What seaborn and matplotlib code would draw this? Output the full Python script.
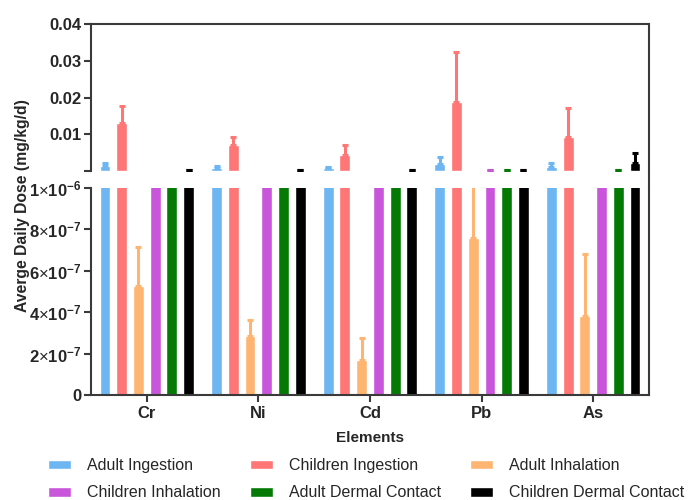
import numpy as np
import pandas as pd
import matplotlib
matplotlib.use("Agg")
import matplotlib.pyplot as plt
from matplotlib.lines import Line2D
from matplotlib.ticker import FixedLocator
import seaborn as sns

# ---------------- data ----------------
elements = ["Cr", "Ni", "Cd", "Pb", "As"]
series = ["Adult Ingestion", "Children Ingestion", "Adult Inhalation",
          "Children Inhalation", "Adult Dermal Contact", "Children Dermal Contact"]

adult_ing = [0.0013, 0.0009, 0.0007, 0.0019, 0.0012]
adult_ing_err = [0.0008, 0.0004, 0.0003, 0.0019, 0.0009]
child_ing = [0.0130, 0.0071, 0.0043, 0.0187, 0.0093]
child_ing_err = [0.0047, 0.0021, 0.0027, 0.0138, 0.0079]
adult_inh = [5.25e-7, 2.83e-7, 1.70e-7, 7.57e-7, 3.80e-7]
adult_inh_err = [1.90e-7, 0.77e-7, 1.07e-7, 2.60e-7, 3.00e-7]
child_inh = [2.0e-5, 1.5e-5, 1.0e-5, 3.0e-4, 1.5e-5]
child_inh_err = [0.0, 0.0, 0.0, 0.0001, 0.0]
adult_derm = [3.0e-5, 2.0e-5, 1.0e-5, 3.0e-4, 3.0e-4]
adult_derm_err = [0.0, 0.0, 0.0, 0.0001, 0.0001]
child_derm = [3.0e-4, 2.0e-4, 1.5e-4, 3.0e-4, 2.2e-3]
child_derm_err = [0.0001, 0.0001, 0.0001, 0.0001, 0.0027]

values = [adult_ing, child_ing, adult_inh, child_inh, adult_derm, child_derm]
errors = [adult_ing_err, child_ing_err, adult_inh_err, child_inh_err,
          adult_derm_err, child_derm_err]
colors = ["#6DB6F2", "#FF7676", "#FFB572", "#C955DA", "#047A04", "#000000"]

top_ticks = [0.01, 0.02, 0.03, 0.04]
top_labels = ["0.01", "0.02", "0.03", "0.04"]
bot_ticks = [0, 2e-7, 4e-7, 6e-7, 8e-7, 1e-6]
bot_labels = ["0",
              r"$\mathbf{2}{\times}\mathbf{10^{-7}}$",
              r"$\mathbf{4}{\times}\mathbf{10^{-7}}$",
              r"$\mathbf{6}{\times}\mathbf{10^{-7}}$",
              r"$\mathbf{8}{\times}\mathbf{10^{-7}}$",
              r"$\mathbf{1}{\times}\mathbf{10^{-6}}$"]

rows = []
for s, vals in zip(series, values):
    for e, v in zip(elements, vals):
        rows.append({"Element": e, "Series": s, "Value": v})
df = pd.DataFrame(rows)

# ---------------- style ----------------
sns.set_style("ticks")
plt.rcParams["font.family"] = ["Liberation Sans", "DejaVu Sans"]
plt.rcParams["mathtext.fontset"] = "custom"
plt.rcParams["mathtext.rm"] = "Liberation Sans"
plt.rcParams["mathtext.bf"] = "Liberation Sans:bold"

fig = plt.figure(figsize=(6.92, 5.0), dpi=100)
L, R = 91 / 692, 649 / 692
ax_top = fig.add_axes([L, 1 - 171 / 500, R - L, (171 - 24) / 500])
ax_bot = fig.add_axes([L, 1 - 395 / 500, R - L, (395 - 188) / 500])

spine_c = "#3a3a3a"
for ax, lim in ((ax_top, (0, 0.04)), (ax_bot, (0, 1e-6))):
    sns.barplot(data=df, x="Element", y="Value", hue="Series", order=elements,
                hue_order=series, palette=colors, width=0.9, gap=0.35,
                errorbar=None, saturation=1, ax=ax, legend=(ax is ax_bot))
    for cont, err, col in zip(ax.containers, errors, colors):
        xs = np.array([b.get_x() + b.get_width() / 2 for b in cont])
        hs = np.array([b.get_height() for b in cont])
        e = np.array(err)
        # only draw error bars that can be seen on this panel's scale
        mask = (e > 0) & (hs + e > lim[1] * 0.001)
        if mask.any():
            ax.errorbar(xs[mask], hs[mask],
                        yerr=[np.zeros(mask.sum()), e[mask]],
                        fmt="none", ecolor=col, elinewidth=2.2,
                        capsize=2.5, capthick=2.2, zorder=1)
    ax.set_ylim(*lim)
    ax.set_xlim(-0.5, 4.5)
    ax.set_xlabel("")
    ax.set_ylabel("")
    for sp in ax.spines.values():
        sp.set_visible(True)
        sp.set_color(spine_c)
        sp.set_linewidth(1.5)
    ax.tick_params(axis="both", direction="out", length=5, width=1.5,
                   color=spine_c, labelsize=11, pad=2)

# top panel
ax_top.spines["bottom"].set_visible(False)
ax_top.yaxis.set_major_locator(FixedLocator([0] + top_ticks))
ax_top.set_yticklabels([""] + top_labels, fontweight="bold", fontsize=12)
ax_top.set_xticks([])

# bottom panel
ax_bot.spines["top"].set_visible(False)
ax_bot.yaxis.set_major_locator(FixedLocator(bot_ticks))
ax_bot.set_yticklabels(bot_labels, fontweight="bold", fontsize=12)
ax_bot.set_xticks(range(len(elements)))
ax_bot.set_xticklabels(elements, fontweight="bold", fontsize=12)
ax_bot.tick_params(axis="x", pad=3)

# continuous right spine across the break
fig.add_artist(Line2D([R, R], [1 - 171 / 500, 1 - 188 / 500],
                      transform=fig.transFigure, color=spine_c, lw=1.5))

fig.text(0.032, 1 - 206 / 500, "Averge Daily Dose (mg/kg/d)", rotation=90,
         ha="center", va="center", fontsize=11.3, fontweight="bold")
fig.text((L + R) / 2, 1 - 438 / 500, "Elements", ha="center", va="center",
         fontsize=11, fontweight="bold")

handles, labels = ax_bot.get_legend_handles_labels()
ax_bot.get_legend().remove()
order = [0, 3, 1, 4, 2, 5]  # fill rows left-to-right
fig.legend([handles[i] for i in order], [labels[i] for i in order],
           loc="upper left", bbox_to_anchor=(48 / 692, 1 - 458 / 500),
           borderaxespad=0, borderpad=0,
           ncol=3, frameon=False, fontsize=11.5, handlelength=1.45,
           handleheight=0.55, columnspacing=1.8, handletextpad=1.0,
           labelspacing=0.78)

fig.savefig("out.png", dpi=100)
